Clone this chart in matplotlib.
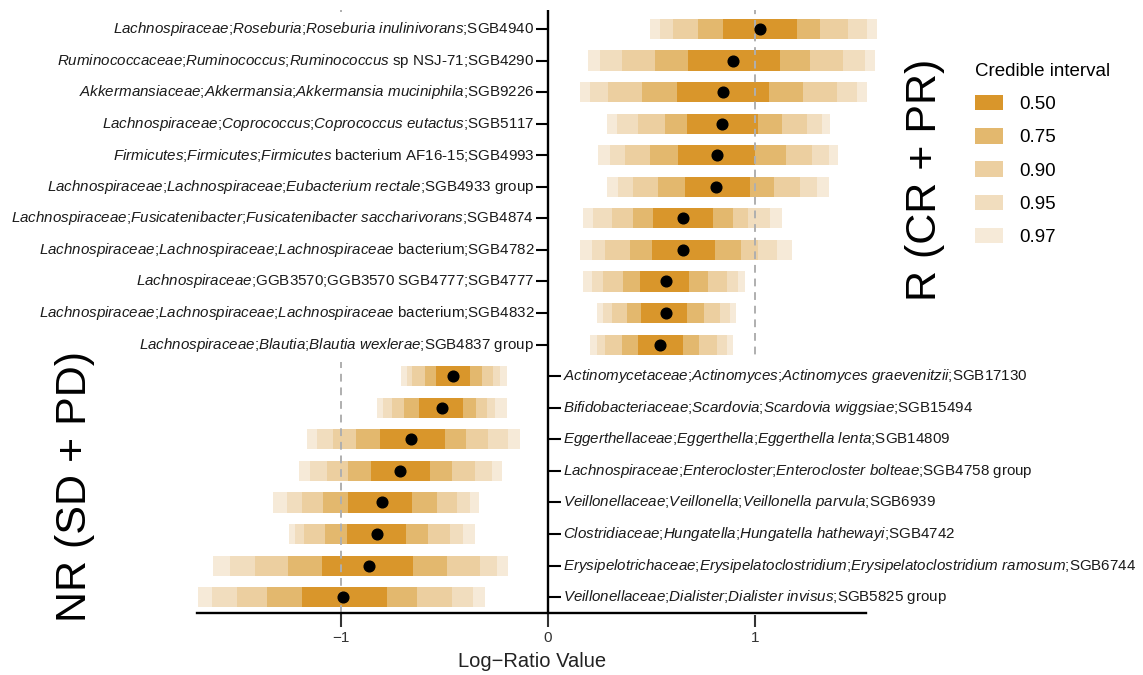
import numpy as np
import matplotlib
matplotlib.use("Agg")
import matplotlib.pyplot as plt
from matplotlib.patches import Patch
from matplotlib.markers import TICKLEFT, TICKRIGHT

plt.rcParams['font.family'] = ['Liberation Sans', 'DejaVu Sans']
plt.rcParams['mathtext.fontset'] = 'custom'
plt.rcParams['mathtext.rm'] = 'Liberation Sans'
plt.rcParams['mathtext.it'] = 'Liberation Sans:italic'

# taxa, top to bottom (first 11 = R group, last 8 = NR group)
taxa_r = [
    "*Lachnospiraceae*;*Roseburia*;*Roseburia inulinivorans*;SGB4940",
    "*Ruminococcaceae*;*Ruminococcus*;*Ruminococcus* sp NSJ-71;SGB4290",
    "*Akkermansiaceae*;*Akkermansia*;*Akkermansia muciniphila*;SGB9226",
    "*Lachnospiraceae*;*Coprococcus*;*Coprococcus eutactus*;SGB5117",
    "*Firmicutes*;*Firmicutes*;*Firmicutes* bacterium AF16-15;SGB4993",
    "*Lachnospiraceae*;*Lachnospiraceae*;*Eubacterium rectale*;SGB4933 group",
    "*Lachnospiraceae*;*Fusicatenibacter*;*Fusicatenibacter saccharivorans*;SGB4874",
    "*Lachnospiraceae*;*Lachnospiraceae*;*Lachnospiraceae* bacterium;SGB4782",
    "*Lachnospiraceae*;GGB3570;GGB3570 SGB4777;SGB4777",
    "*Lachnospiraceae*;*Lachnospiraceae*;*Lachnospiraceae* bacterium;SGB4832",
    "*Lachnospiraceae*;*Blautia*;*Blautia wexlerae*;SGB4837 group",
]
taxa_nr = [
    "*Actinomycetaceae*;*Actinomyces*;*Actinomyces graevenitzii*;SGB17130",
    "*Bifidobacteriaceae*;*Scardovia*;*Scardovia wiggsiae*;SGB15494",
    "*Eggerthellaceae*;*Eggerthella*;*Eggerthella lenta*;SGB14809",
    "*Lachnospiraceae*;*Enterocloster*;*Enterocloster bolteae*;SGB4758 group",
    "*Veillonellaceae*;*Veillonella*;*Veillonella parvula*;SGB6939",
    "*Clostridiaceae*;*Hungatella*;*Hungatella hathewayi*;SGB4742",
    "*Erysipelotrichaceae*;*Erysipelatoclostridium*;*Erysipelatoclostridium ramosum*;SGB6744",
    "*Veillonellaceae*;*Dialister*;*Dialister invisus*;SGB5825 group",
]

median = [1.026, 0.897, 0.849, 0.844, 0.817, 0.812, 0.655, 0.655, 0.570, 0.570, 0.542,
          -0.458, -0.515, -0.665, -0.716, -0.805, -0.826, -0.865, -0.991]
lo97 = [0.494, 0.195, 0.155, 0.284, 0.243, 0.284, 0.171, 0.155, 0.168, 0.236, 0.203,
        -0.713, -0.829, -1.165, -1.204, -1.330, -1.252, -1.620, -1.693]
lo95 = [0.542, 0.252, 0.203, 0.333, 0.300, 0.340, 0.219, 0.212, 0.212, 0.268, 0.236,
        -0.684, -0.797, -1.117, -1.152, -1.265, -1.225, -1.539, -1.628]
lo90 = [0.605, 0.357, 0.292, 0.437, 0.373, 0.413, 0.308, 0.276, 0.268, 0.308, 0.276,
        -0.660, -0.757, -1.039, -1.071, -1.192, -1.181, -1.418, -1.507]
lo75 = [0.726, 0.518, 0.454, 0.566, 0.494, 0.534, 0.410, 0.397, 0.362, 0.381, 0.357,
        -0.595, -0.697, -0.929, -0.967, -1.088, -1.079, -1.257, -1.359]
lo50 = [0.847, 0.679, 0.623, 0.671, 0.631, 0.663, 0.507, 0.502, 0.445, 0.450, 0.434,
        -0.542, -0.623, -0.813, -0.857, -0.967, -0.974, -1.095, -1.192]
hi50 = [1.205, 1.123, 1.071, 1.018, 1.002, 0.978, 0.797, 0.808, 0.684, 0.674, 0.655,
        -0.378, -0.413, -0.499, -0.571, -0.660, -0.687, -0.652, -0.781]
hi75 = [1.317, 1.268, 1.236, 1.131, 1.152, 1.094, 0.897, 0.933, 0.776, 0.757, 0.732,
        -0.321, -0.348, -0.397, -0.466, -0.539, -0.579, -0.490, -0.636]
hi90 = [1.452, 1.429, 1.397, 1.252, 1.276, 1.220, 0.970, 1.018, 0.865, 0.833, 0.817,
        -0.265, -0.297, -0.289, -0.353, -0.442, -0.474, -0.329, -0.466]
hi95 = [1.544, 1.534, 1.494, 1.325, 1.362, 1.301, 1.075, 1.107, 0.921, 0.881, 0.865,
        -0.232, -0.257, -0.192, -0.273, -0.378, -0.410, -0.248, -0.362]
hi97 = [1.592, 1.583, 1.543, 1.365, 1.405, 1.362, 1.131, 1.180, 0.954, 0.910, 0.894,
        -0.200, -0.200, -0.136, -0.224, -0.333, -0.353, -0.192, -0.305]

levels = ["0.50", "0.75", "0.90", "0.95", "0.97"]
level_colors = ["#D9962B", "#E3B86E", "#ECCFA0", "#F1DDBE", "#F6EAD8"]


def fmt(label):
    # *...* -> italic mathtext
    parts = label.split("*")
    out = ""
    for i, p in enumerate(parts):
        if i % 2 == 1:
            out += r"$\mathit{" + p.replace(" ", r"\ ") + "}$"
        else:
            out += p
    return out


n = len(median)
rows = np.arange(n)
n_r = len(taxa_r)

fig = plt.figure(figsize=(11.43, 6.75), dpi=100)
ax = fig.add_axes([0.1631, 0.0919, 0.6056, 0.8933])

# reference lines (drawn over the bars, under the dots)
ax.axvline(-1, color="#AFAFAF", lw=1.4, ls=(0, (4, 3)), zorder=5)
ax.axvline(1, color="#AFAFAF", lw=1.4, ls=(0, (4, 3)), zorder=5)

# nested credible intervals, widest first
bounds = [(lo97, hi97), (lo95, hi95), (lo90, hi90), (lo75, hi75), (lo50, hi50)]
for (lo, hi), col in zip(bounds, level_colors[::-1]):
    lo = np.array(lo)
    hi = np.array(hi)
    ax.barh(rows, hi - lo, left=lo, height=0.64, color=col, edgecolor="none", zorder=4)

ax.plot(median, rows, "o", color="black", ms=7.7, zorder=6)

ax.set_xlim(-1.75, 1.6)
ax.set_ylim(n - 0.5, -0.6)

for s in ["top", "right", "left"]:
    ax.spines[s].set_visible(False)
ax.spines["bottom"].set_bounds(-1.70, 1.54)
ax.spines["bottom"].set_linewidth(1.7)
ax.spines["bottom"].set_zorder(7)
ax.set_yticks([])
ax.set_xticks([-1, 0, 1])
ax.set_xticklabels(["\u22121", "0", "1"])
ax.tick_params(axis="x", length=10, width=1.5, labelsize=11, colors="#333333", pad=3)
ax.set_xlabel("Log\u2212Ratio Value", fontsize=14.5, color="#222222", labelpad=5)

# zero axis line
ax.axvline(0, color="black", lw=1.7, zorder=7)

# row labels
label_box = dict(boxstyle="square,pad=0.55", fc="white", ec="none")
for i, lab in enumerate(taxa_r):
    ax.annotate(fmt(lab), xy=(0, i), xytext=(-10, 0), textcoords="offset points",
                ha="right", va="center", fontsize=10.9, color="#1a1a1a",
                bbox=label_box, zorder=5.5)
for j, lab in enumerate(taxa_nr):
    ax.annotate(fmt(lab), xy=(0, n_r + j), xytext=(11, 0), textcoords="offset points",
                ha="left", va="center", fontsize=10.9, color="#1a1a1a",
                bbox=label_box, zorder=5.5)
ax.plot(np.zeros(n_r), rows[:n_r], ls="none", marker=TICKLEFT, ms=8.5, mew=1.5,
        color="black", zorder=8)
ax.plot(np.zeros(n - n_r), rows[n_r:], ls="none", marker=TICKRIGHT, ms=9.5, mew=1.5,
        color="black", zorder=8)

# group titles
fig.text(925 / 1143, 1 - 180 / 675, "R (CR + PR)", rotation=90, fontsize=31,
         ha="center", va="center", color="black")
fig.text(75 / 1143, 1 - 486 / 675, "NR (SD + PD)", rotation=90, fontsize=31,
         ha="center", va="center", color="black")

handles = [Patch(facecolor=c, edgecolor="none") for c in level_colors]
fig.legend(handles, levels, title="Credible interval", loc="upper left",
           bbox_to_anchor=(958 / 1143, 1 - 46 / 675), frameon=False,
           fontsize=13.5, title_fontsize=13.5, handlelength=1.5, handleheight=0.9,
           labelspacing=0.8, handletextpad=0.85, alignment="left")

fig.savefig("out.png", dpi=100)
